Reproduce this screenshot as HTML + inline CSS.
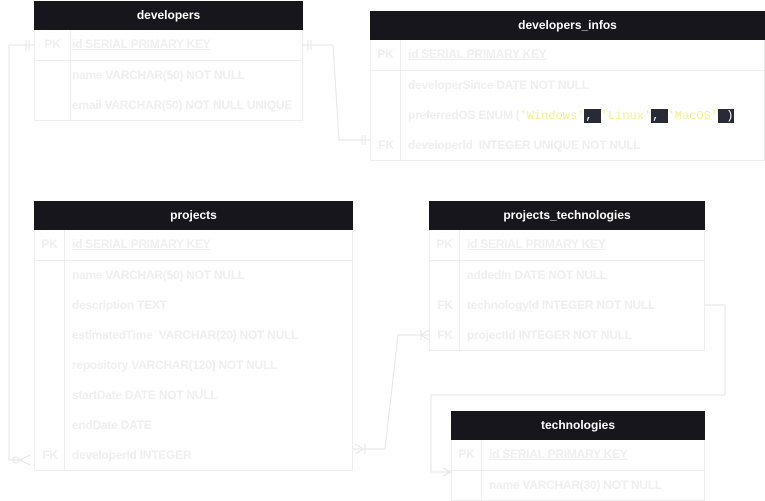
<!DOCTYPE html>
<html><head><meta charset="utf-8"><style>
body{margin:0;width:765px;height:501px;background:#fff;position:relative;overflow:hidden;font-family:"Liberation Sans",Arial,sans-serif;}
.t{position:absolute;border:1px solid #eeeeee;box-sizing:border-box;background:#fff}
.h{background:#18161d;color:#fff;font-weight:bold;font-size:12px;text-align:center;height:29px;line-height:29px;margin:-1px -1px 0 -1px}
.r{height:30px;line-height:28px;font-size:12px;font-weight:bold;color:#efefef;position:relative;white-space:nowrap;letter-spacing:-0.25px}
.k{position:absolute;left:0;top:0;bottom:0;text-align:center;border-right:1px solid #eeeeee;box-sizing:border-box}
.n{position:absolute;top:0}
.b{border-bottom:1px solid #eeeeee}
.u{text-decoration:underline}
.c{font-family:"Liberation Mono",monospace;color:#f2f28a;font-weight:normal;letter-spacing:0}
.d{background:#282a36;color:#fff;font-family:"Liberation Mono",monospace;padding:0 1px;font-weight:normal;letter-spacing:0}
</style></head><body>
<svg width="765" height="501" style="position:absolute;left:0;top:0" fill="none" stroke="#e6e6e6" stroke-width="1">
<path d="M34 45 H9 V460 H20"/><path d="M26 40 V50 M29 40 V50"/>
<path d="M20 460 L30 455 M20 460 L30 465"/><circle cx="16" cy="460" r="3"/>
<path d="M303 45 H333 L339 140 H370"/><path d="M308 40V50 M311 40V50 M362 135V145 M365 135V145"/>
<path d="M353 449 H385 L398 335 H429"/><path d="M365 444V454 M355 444 L363 449 L355 454"/>
<path d="M421 335 L429 330 M421 335 L429 340 M421 330V340"/>
<path d="M705 305 H725 V395 H431 V472 H451"/><path d="M443 468 L451 472 L443 476"/>
</svg>

<div class="t" style="left:34px;top:1px;width:269px;height:120px">
<div class="h">developers</div>
<div class="r b"><div class="k" style="width:36px">PK</div><div class="n u" style="left:37px">id SERIAL PRIMARY KEY</div></div>
<div class="r"><div class="k" style="width:36px;height:60px"></div><div class="n" style="left:37px">name VARCHAR(50) NOT NULL</div></div>
<div class="r"><div class="n" style="left:37px">email VARCHAR(50) NOT NULL UNIQUE</div></div>
</div>

<div class="t" style="left:370px;top:11px;width:395px;height:150px">
<div class="h">developers_infos</div>
<div class="r b"><div class="k" style="width:30px">PK</div><div class="n u" style="left:37px">id SERIAL PRIMARY KEY</div></div>
<div class="r"><div class="k" style="width:30px;height:90px"></div><div class="n" style="left:37px">developerSince DATE NOT NULL</div></div>
<div class="r"><div class="n" style="left:37px">preferredOS ENUM (<span class="c">'Windows'</span><span class="d">, </span><span class="c">'Linux'</span><span class="d">, </span><span class="c">'MacOS'</span><span class="d"> )</span></div></div>
<div class="r"><div class="k" style="width:30px;border:0">FK</div><div class="n" style="left:37px">developerId &nbsp;INTEGER UNIQUE NOT NULL</div></div>
</div>

<div class="t" style="left:34px;top:201px;width:319px;height:270px">
<div class="h">projects</div>
<div class="r b"><div class="k" style="width:30px">PK</div><div class="n u" style="left:37px">id SERIAL PRIMARY KEY</div></div>
<div class="r"><div class="k" style="width:30px;height:210px"></div><div class="n" style="left:37px">name VARCHAR(50) NOT NULL</div></div>
<div class="r"><div class="n" style="left:37px">description TEXT</div></div>
<div class="r"><div class="n" style="left:37px">estimatedTime &nbsp;VARCHAR(20) NOT NULL</div></div>
<div class="r"><div class="n" style="left:37px">repository VARCHAR(120) NOT NULL</div></div>
<div class="r"><div class="n" style="left:37px">startDate DATE NOT NULL</div></div>
<div class="r"><div class="n" style="left:37px">endDate DATE</div></div>
<div class="r"><div class="k" style="width:30px;border:0">FK</div><div class="n" style="left:37px">developerId INTEGER</div></div>
</div>

<div class="t" style="left:429px;top:201px;width:276px;height:150px">
<div class="h">projects_technologies</div>
<div class="r b"><div class="k" style="width:30px">PK</div><div class="n u" style="left:37px">id SERIAL PRIMARY KEY</div></div>
<div class="r"><div class="k" style="width:30px;height:90px"></div><div class="n" style="left:37px">addedIn DATE NOT NULL</div></div>
<div class="r"><div class="k" style="width:30px;border:0">FK</div><div class="n" style="left:37px">technologyId INTEGER NOT NULL</div></div>
<div class="r"><div class="k" style="width:30px;border:0">FK</div><div class="n" style="left:37px">projectId INTEGER NOT NULL</div></div>
</div>

<div class="t" style="left:451px;top:411px;width:254px;height:90px">
<div class="h">technologies</div>
<div class="r b"><div class="k" style="width:30px">PK</div><div class="n u" style="left:37px">id SERIAL PRIMARY KEY</div></div>
<div class="r"><div class="k" style="width:30px"></div><div class="n" style="left:37px">name VARCHAR(30) NOT NULL</div></div>
</div>
</body></html>
